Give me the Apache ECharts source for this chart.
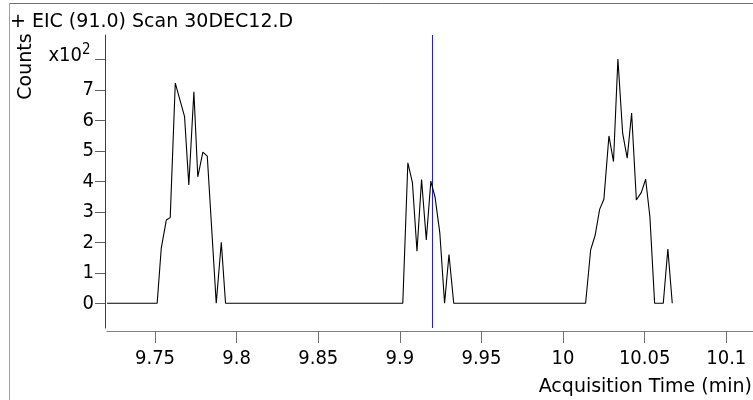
<!DOCTYPE html>
<html>
<head>
<meta charset="utf-8">
<script src="https://cdn.jsdelivr.net/npm/echarts@6/dist/echarts.min.js"></script>
<style>
html,body{margin:0;padding:0;background:#fff;}
#chart{width:753px;height:400px;}
</style>
</head>
<body>
<div id="chart"></div>
<script>
// Acquisition time (min) and counts
var times = [9.7206, 9.7513, 9.7538, 9.7569, 9.7593, 9.7624, 9.7681, 9.7707, 9.7738, 9.7762, 9.7793, 9.7820, 9.7875, 9.7906, 9.7932,
             9.9018, 9.9049, 9.9077, 9.9105, 9.9133, 9.9162, 9.9190, 9.9216, 9.9245, 9.9274, 9.9301, 9.9330,
             10.0138, 10.0169, 10.0197, 10.0224, 10.0250, 10.0281, 10.0309, 10.0336, 10.0365, 10.0393, 10.0420, 10.0449, 10.0479, 10.0506, 10.0532, 10.0561, 10.0614, 10.0642, 10.0669];
var counts = [0, 0, 180, 273, 281, 722, 612, 388, 694, 415, 496, 483, 0, 200, 0,
              0, 461, 396, 171, 406, 208, 401, 347, 230, 0, 160, 0,
              0, 175, 224, 308, 341, 549, 465, 801, 558, 476, 624, 339, 363, 407, 284, 0, 0, 178, 0];
var xTicks = [9.75, 9.8, 9.85, 9.9, 9.95, 10, 10.05, 10.1];
var yTicks = [0, 100, 200, 300, 400, 500, 600, 700, 800];
var yLabels = [0, 100, 200, 300, 400, 500, 600, 700];
var xMin = 9.72057, xMax = 10.11637;
var yMin = -81, yMax = 880;
var cursorTime = 9.92;
var titleText = '+ EIC (91.0) Scan 30DEC12.D';
var yTitle = 'Counts';
var xTitle = 'Acquisition Time (min)';

var NUMFONT = '"DejaVu Sans Condensed", "DejaVu Sans", sans-serif';
var WORDFONT = '"DejaVu Sans", sans-serif';
var seriesData = times.map(function (t, i) { return [t, counts[i]]; });
var cursorData = [[cursorTime, yMin], [cursorTime, yMax]];

var chart = echarts.init(document.getElementById('chart'), null, {renderer: 'canvas'});
chart.setOption({
  animation: false,
  backgroundColor: '#fff',
  grid: {left: 107, right: 0, top: 35, bottom: 72, containLabel: false},
  xAxis: {
    type: 'value',
    min: xMin,
    max: xMax,
    offset: 3,
    axisLine: {show: true, onZero: false, lineStyle: {color: '#808080', width: 1}},
    axisTick: {show: true, length: 12, customValues: xTicks, lineStyle: {color: '#707070'}},
    axisLabel: {
      customValues: xTicks, margin: 18, fontSize: 20, fontFamily: NUMFONT, color: '#000',
      formatter: function (v) { return String(+v.toFixed(2)); }
    },
    splitLine: {show: false}
  },
  yAxis: {
    type: 'value',
    min: yMin,
    max: yMax,
    offset: 2,
    axisLine: {show: true, onZero: false, lineStyle: {color: '#404040', width: 1}},
    axisTick: {show: true, length: 10, customValues: yTicks, lineStyle: {color: '#606060'}},
    axisLabel: {
      customValues: yLabels, margin: 11, fontSize: 20, fontFamily: NUMFONT, color: '#000',
      formatter: function (v) { return String(Math.round(v / 100)); }
    },
    splitLine: {show: false}
  },
  series: [{
    type: 'line',
    data: cursorData,
    showSymbol: false,
    symbol: 'none',
    color: '#2020c8',
    lineStyle: {color: '#2020c8', width: 1}
  }, {
    type: 'line',
    data: seriesData,
    showSymbol: false,
    symbol: 'none',
    color: '#000',
    lineStyle: {color: '#000', width: 1.1}
  }],
  graphic: [
    {type: 'line', shape: {x1: 9.5, y1: 3.5, x2: 753, y2: 3.5}, style: {stroke: '#707070', lineWidth: 1}, silent: true},
    {type: 'line', shape: {x1: 9.5, y1: 3.5, x2: 9.5, y2: 400}, style: {stroke: '#a0a0a0', lineWidth: 1}, silent: true},
    {type: 'text', x: 10, y: 22, style: {text: titleText, font: '19px ' + WORDFONT, fill: '#000', align: 'left', verticalAlign: 'middle'}, silent: true},
    {type: 'text', x: 26, y: 66.5, rotation: Math.PI / 2, style: {text: yTitle, font: '19px ' + WORDFONT, fill: '#000', align: 'center', verticalAlign: 'middle'}, silent: true},
    {type: 'text', x: 82, y: 55.8, style: {text: 'x10', font: '20px ' + NUMFONT, fill: '#000', align: 'right', verticalAlign: 'middle'}, silent: true},
    {type: 'text', x: 82, y: 50.5, style: {text: '2', font: '15px ' + NUMFONT, fill: '#000', align: 'left', verticalAlign: 'middle'}, silent: true},
    {type: 'text', x: 752, y: 387, style: {text: xTitle, font: '19px ' + WORDFONT, fill: '#000', align: 'right', verticalAlign: 'middle'}, silent: true}
  ]
});
</script>
</body>
</html>
